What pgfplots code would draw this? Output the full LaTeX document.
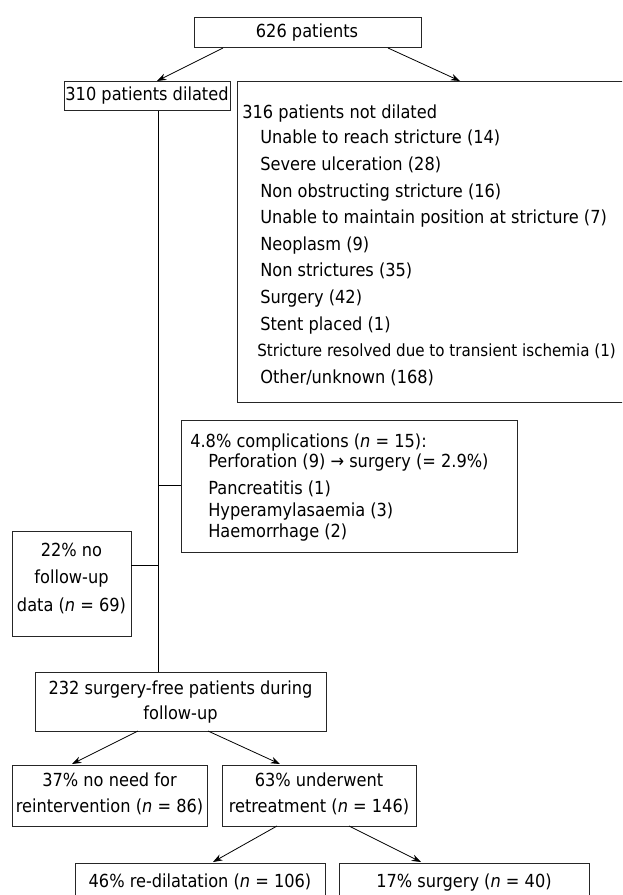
\documentclass[border=0pt]{standalone}
\usepackage{fontspec}
\setmainfont{DejaVu Sans}[FakeStretch=0.9, ItalicFont={DejaVu Sans Oblique}]
\usepackage{pgfplots}
\pgfplotsset{compat=1.18}
\usetikzlibrary{arrows.meta}

% 1 px of the reference = 0.75pt
\pgfplotsset{
  box/.style={black!85, line width=0.75pt, no marks, line join=miter},
  link/.style={black, line width=0.75pt, no marks},
  arr/.style={black, line width=0.6pt, no marks, -{Stealth[length=7pt,width=5pt]}},
}
\tikzset{
  txt/.style={inner sep=0pt, text height=0.72em, text depth=0pt, font=\fontsize{13.5}{16}\selectfont},
}

\begin{document}
\begin{tikzpicture}
\begin{axis}[
    width=466.5pt, height=671.25pt, scale only axis,
    xmin=0, xmax=622, ymin=0, ymax=895, y dir=reverse,
    hide axis, clip=true,
  ]
  % boxes
  \addplot[box] coordinates {(194,18) (421,18) (421,48) (194,48) (194,18)};
  \addplot[box] coordinates {(64,82) (230,82) (230,111) (64,111) (64,82)};
  \addplot[box] coordinates {(640,82) (237,82) (237,402) (640,402)};
  \addplot[box] coordinates {(181,420) (517,420) (517,552) (181,552) (181,420)};
  \addplot[box] coordinates {(12,531) (131,531) (131,636) (12,636) (12,531)};
  \addplot[box] coordinates {(35,672) (326,672) (326,731) (35,731) (35,672)};
  \addplot[box] coordinates {(12,765) (207,765) (207,826) (12,826) (12,765)};
  \addplot[box] coordinates {(222,765) (416,765) (416,826) (222,826) (222,765)};
  \addplot[box] coordinates {(75,910) (75,863) (325,863) (325,910)};
  \addplot[box] coordinates {(339,910) (339,863) (589,863) (589,910)};

  % connectors
  \addplot[link] coordinates {(158,111) (158,672)};
  \addplot[link] coordinates {(158,485) (181,485)};
  \addplot[link] coordinates {(131,565) (158,565)};

  % arrows
  \addplot[arr] coordinates {(223,48) (157,81)};
  \addplot[arr] coordinates {(388,48) (460,81)};
  \addplot[arr] coordinates {(138,731) (72,764)};
  \addplot[arr] coordinates {(208,731) (280,764)};
  \addplot[arr] coordinates {(277,826) (213,862)};
  \addplot[arr] coordinates {(349,826) (421,862)};

  % texts
  \node[txt] at (axis cs:307,33) {626 patients};
  \node[txt] at (axis cs:147,96) {310 patients dilated};

  \node[txt, anchor=west] at (axis cs:242,114) {316 patients not dilated};
  \node[txt, anchor=west] at (axis cs:260,139) {Unable to reach stricture (14)};
  \node[txt, anchor=west] at (axis cs:260,165.6) {Severe ulceration (28)};
  \node[txt, anchor=west] at (axis cs:260,192.2) {Non obstructing stricture (16)};
  \node[txt, anchor=west] at (axis cs:260,218.8) {Unable to maintain position at stricture (7)};
  \node[txt, anchor=west] at (axis cs:260,245.4) {Neoplasm (9)};
  \node[txt, anchor=west] at (axis cs:260,272) {Non strictures (35)};
  \node[txt, anchor=west] at (axis cs:260,298.6) {Surgery (42)};
  \node[txt, anchor=west] at (axis cs:260,325.2) {Stent placed (1)};
  \node[txt, anchor=west, font=\fontsize{12.6}{15}\selectfont] at (axis cs:257,351.8) {Stricture resolved due to transient ischemia (1)};
  \node[txt, anchor=west] at (axis cs:260,378.4) {Other/unknown (168)};

  \node[txt, anchor=west] at (axis cs:190,443) {4.8\% complications (\textit{n} = 15):};
  \node[txt, anchor=west] at (axis cs:208,463) {Perforation (9) → surgery (= 2.9\%)};
  \node[txt, anchor=west] at (axis cs:208,490) {Pancreatitis (1)};
  \node[txt, anchor=west] at (axis cs:208,512) {Hyperamylasaemia (3)};
  \node[txt, anchor=west] at (axis cs:208,533) {Haemorrhage (2)};

  \node[txt] at (axis cs:71.5,552) {22\% no};
  \node[txt] at (axis cs:71.5,579) {follow-up};
  \node[txt] at (axis cs:71.5,607) {data (\textit{n} = 69)};

  \node[txt] at (axis cs:180.5,690) {232 surgery-free patients during};
  \node[txt] at (axis cs:180.5,715) {follow-up};

  \node[txt] at (axis cs:109.5,782) {37\% no need for};
  \node[txt] at (axis cs:109.5,808) {reintervention (\textit{n} = 86)};
  \node[txt] at (axis cs:319,782) {63\% underwent};
  \node[txt] at (axis cs:319,808) {retreatment (\textit{n} = 146)};

  \node[txt] at (axis cs:200,883) {46\% re-dilatation (\textit{n} = 106)};
  \node[txt] at (axis cs:464,883) {17\% surgery (\textit{n} = 40)};
\end{axis}
\pgfresetboundingbox
\path (0,0) rectangle (466.5pt,671.25pt);
\end{tikzpicture}
\end{document}
